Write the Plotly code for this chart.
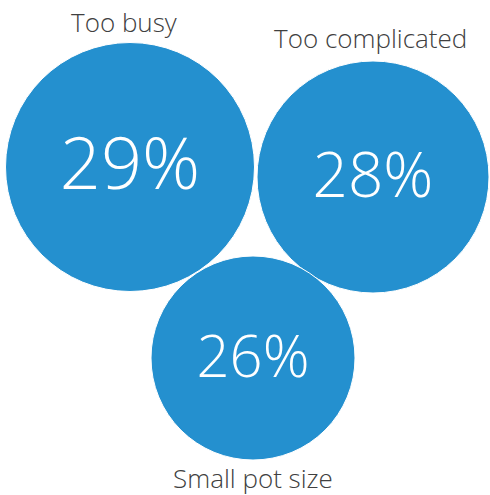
import plotly.graph_objects as go

categories = ["Too busy", "Too complicated", "Small pot size"]
values = [29, 28, 26]

# layout (pixel-space placement of bubbles)
cx = [130, 373, 253]
cy = [167, 177, 358]
diam = [249, 232, 204]
num_font = [72, 62, 58]
text_dy = 4
label_pos = [(124, 22), (370, 38), (253, 478)]

BLUE = "#2490cf"
FONT = "Open Sans"

fig = go.Figure()
fig.add_trace(go.Scatter(
    x=cx, y=cy, mode="markers",
    marker=dict(size=diam, color=BLUE, opacity=1, line=dict(color="white", width=1)),
    hoverinfo="skip", showlegend=False,
))
fig.add_trace(go.Scatter(
    x=cx, y=[c + text_dy for c in cy], mode="text",
    text=[f"{v}%" for v in values],
    textposition="middle center",
    textfont=dict(family=FONT, size=num_font, color="white", weight=300),
    hoverinfo="skip", showlegend=False,
))

for cat, (lx, ly) in zip(categories, label_pos):
    fig.add_annotation(x=lx, y=ly, text=cat, showarrow=False,
                       font=dict(family=FONT, size=26, color="#404040", weight=300),
                       xanchor="center", yanchor="middle")

fig.update_layout(
    width=490, height=495,
    margin=dict(l=0, r=0, t=0, b=0),
    paper_bgcolor="white", plot_bgcolor="white",
    xaxis=dict(range=[0, 490], visible=False, fixedrange=True),
    yaxis=dict(range=[495, 0], visible=False, fixedrange=True),
)
fig.write_html("out.html", config={"displayModeBar": False},
               post_script="document.body.style.margin='0';document.body.style.overflow='hidden';")
